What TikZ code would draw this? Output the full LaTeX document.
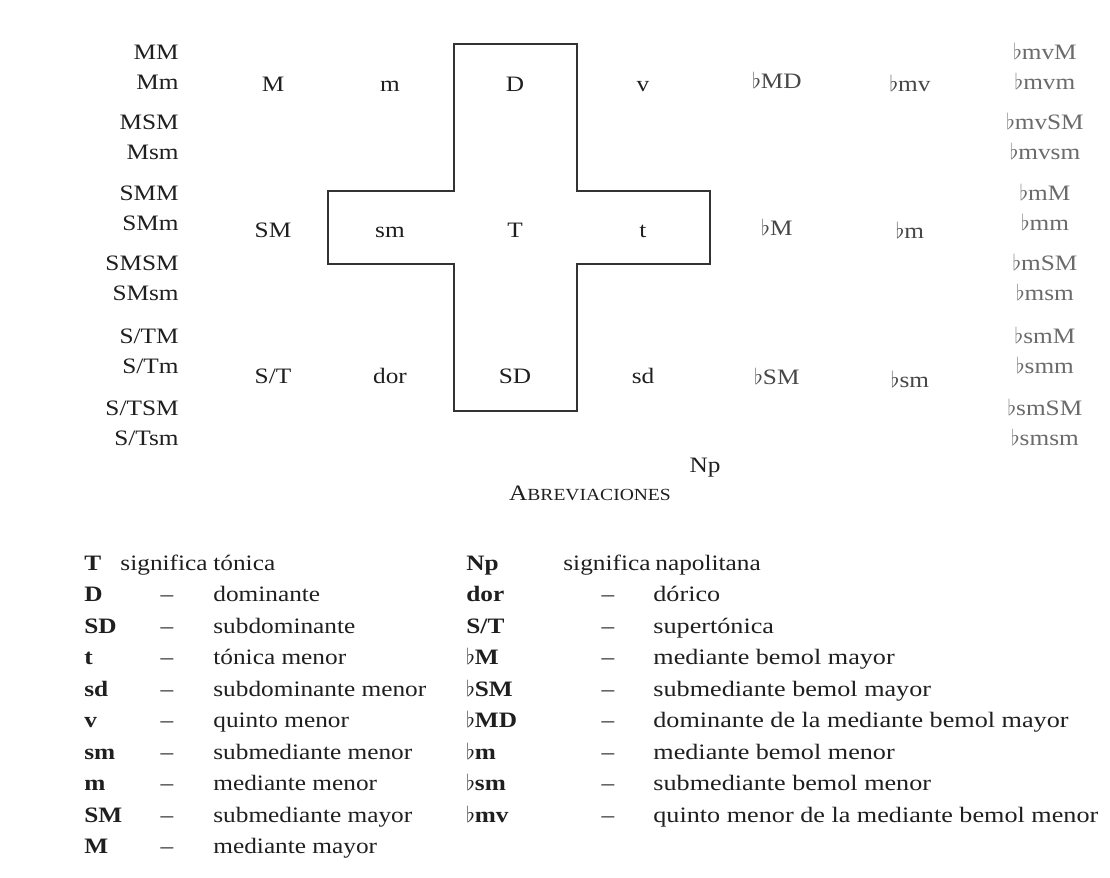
\documentclass[tikz,border=0pt]{standalone}
\usepackage{fontspec}
\setmainfont{Liberation Serif}[FakeStretch=1.15]
\newfontfamily\widefont{Liberation Serif}[FakeStretch=1.19]
\newcommand{\bemol}{$\flat$}
\newcommand{\abrev}{{\fontsize{11}{13}\selectfont A}{\fontsize{8.5}{10}\selectfont BREVIACIONES}}
\definecolor{ink}{gray}{0.12}
\definecolor{faint}{gray}{0.42}
\definecolor{half}{gray}{0.28}

\begin{document}
\begin{tikzpicture}[x=0.5pt,y=-0.5pt,
    region/.style={font=\fontsize{11}{15}\selectfont, text=ink, inner sep=0pt, anchor=base},
    abbr/.style={font=\fontsize{11}{13}\selectfont\bfseries, text=ink, anchor=base west, inner sep=0pt},
    desc/.style={font=\fontsize{11}{13}\selectfont, text=ink, anchor=base west, inner sep=0pt}]
  \useasboundingbox (0,0) rectangle (1110,878);
  \fill[white] (0,0) rectangle (1110,878);
  % Cross round the central regions
  \draw[line width=0.8pt, black!80] (454,44) -- (577,44) -- (577,191) -- (710,191)
    -- (710,264) -- (577,264) -- (577,411) -- (454,411) -- (454,264) -- (328,264)
    -- (328,191) -- (454,191) -- cycle;
  % Regions, three rows
  \foreach \x/\name/\txt in {273/M/M, 390/m/m, 515/D/D, 643/v/v} {
    \node[region] (r\name) at (\x,91) {\txt};
  }
  \foreach \x/\name/\txt in {273/SM/SM, 390/sm/sm, 515/T/T, 643/t/t} {
    \node[region] (r\name) at (\x,237) {\txt};
  }
  \foreach \x/\name/\txt in {273/ST/{S/T}, 390/dor/dor, 515/SD/SD, 643/sd/sd} {
    \node[region] (r\name) at (\x,383) {\txt};
  }
  % Flat regions
  \node[region, text=half] (rbMD) at (777,89) {\bemol MD};
  \node[region, text=half] (rbmv) at (910,91) {\bemol mv};
  \node[region, text=half] (rbM) at (777,235) {\bemol M};
  \node[region, text=half] (rbm) at (910,238) {\bemol m};
  \node[region, text=half] (rbSM) at (777,384) {\bemol SM};
  \node[region, text=half] (rbsm) at (910,387) {\bemol sm};
  \node[region] (rNp) at (705,472) {Np};
  % Left column of pairs
  \foreach \y/\up/\lo [count=\i] in {60/MM/Mm, 129/MSM/Msm, 200/SMM/SMm,
      270/SMSM/SMsm, 343/{S/TM}/{S/Tm}, 415/{S/TSM}/{S/Tsm}} {
    \node[region, anchor=base east] (lpa\i) at (179,\y) {\up};
    \node[region, anchor=base east] (lpb\i) at (179,\y+30) {\lo};
  }
  % Right column of pairs
  \foreach \y/\up/\lo [count=\i] in {60/mvM/mvm, 129/mvSM/mvsm, 200/mM/mm,
      270/mSM/msm, 343/smM/smm, 415/smSM/smsm} {
    \node[region, text=faint] (rpa\i) at (1045,\y) {\bemol\up};
    \node[region, text=faint] (rpb\i) at (1045,\y+30) {\bemol\lo};
  }
  % Legend
  \node[text=ink, anchor=base] (title) at (590,500) {\abrev};
  \node[abbr] (la0) at (84,570) {T};
  \node[desc, anchor=base east] (ls0) at (208,570) {significa};
  \node[desc] (lt0) at (213,570) {tónica};
  \foreach \ab/\txt [count=\i] in {D/dominante, SD/subdominante, t/tónica menor,
      sd/subdominante menor, v/quinto menor, sm/submediante menor,
      m/mediante menor, SM/submediante mayor, M/mediante mayor} {
    \node[abbr] (la\i) at (84,570+31.5*\i) {\ab};
    \node[desc, anchor=base] (ld\i) at (167,570+31.5*\i) {–};
    \node[desc] (lt\i) at (213,570+31.5*\i) {\txt};
  }
  \node[abbr] (ra0) at (466,570) {Np};
  \node[desc] (rs0) at (563,570) {significa};
  \node[desc] (rt0) at (655,570) {napolitana};
  \foreach \ab/\txt [count=\i] in {dor/dórico, {S/T}/supertónica,
      \bemol M/mediante bemol mayor, \bemol SM/submediante bemol mayor,
      \bemol MD/dominante de la mediante bemol mayor,
      \bemol m/mediante bemol menor, \bemol sm/submediante bemol menor,
      \bemol mv/quinto menor de la mediante bemol menor} {
    \node[abbr] (ra\i) at (466,570+31.5*\i) {\ab};
    \node[desc, anchor=base] (rd\i) at (608,570+31.5*\i) {–};
    \node[desc, font=\fontsize{11}{13}\widefont] (rt\i) at (653,570+31.5*\i) {\txt};
  }
\end{tikzpicture}
\end{document}
